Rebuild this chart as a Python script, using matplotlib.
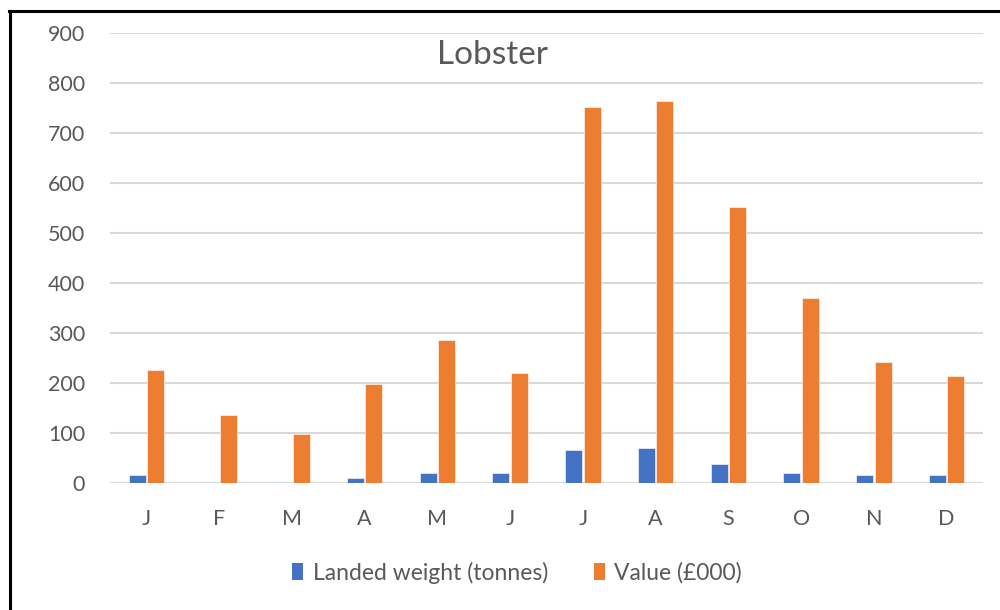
import matplotlib
matplotlib.use("Agg")
import matplotlib.pyplot as plt
from matplotlib.lines import Line2D
from matplotlib.patches import Patch
import numpy as np

months = ["J", "F", "M", "A", "M", "J", "J", "A", "S", "O", "N", "D"]
landed_weight = [15, 1, 1, 9, 20, 20, 65, 70, 37, 20, 15, 15]
value_k = [225, 136, 98, 197, 285, 220, 752, 763, 552, 369, 242, 214]
yticks = [0, 100, 200, 300, 400, 500, 600, 700, 800, 900]

blue = "#4472C4"
orange = "#ED7D31"
text_col = "#595959"
grid_col = "#D9D9D9"

plt.rcParams["font.family"] = ["Lato", "DejaVu Sans"]

fig = plt.figure(figsize=(10, 6.1), dpi=100)
ax = fig.add_axes([0.110, 0.2087, 0.873, 0.738])

x = np.arange(len(months))
w = 0.235
gap = 0.02
ax.bar(x - (w + gap) / 2, landed_weight, width=w, color=blue,
       edgecolor="white", linewidth=0.4, zorder=3, label="Landed weight (tonnes)")
ax.bar(x + (w + gap) / 2, value_k, width=w, color=orange,
       edgecolor="white", linewidth=0.4, zorder=3, label="Value (£000)")

ax.set_xlim(-0.5, len(months) - 0.5)
ax.set_ylim(0, 900)
ax.set_yticks(yticks)
ax.set_xticks(x)
ax.set_xticklabels(months)
ax.tick_params(axis="both", length=0, colors=text_col, labelsize=15.5)
ax.tick_params(axis="y", pad=18)
ax.tick_params(axis="x", pad=19)
ax.grid(axis="y", color=grid_col, linewidth=1.5, zorder=0)
for s in ax.spines.values():
    s.set_visible(False)

ax.text(0.438, 0.95, "Lobster", transform=ax.transAxes, ha="center",
        va="center", fontsize=24, color=text_col)

handles = [Patch(facecolor=blue, label="Landed weight (tonnes)"),
           Patch(facecolor=orange, label="Value (£000)")]
fig.legend(handles=handles, loc="center", bbox_to_anchor=(0.517, 0.061),
           ncol=2, frameon=False, fontsize=16.5, labelcolor=text_col,
           handlelength=0.5, handleheight=0.75, handletextpad=0.4,
           columnspacing=2.0)

# outer border (left and top edges)
fig.add_artist(Line2D([0.0095, 0.0095], [0.0, 0.982], transform=fig.transFigure,
                      color="black", linewidth=2.2))
fig.add_artist(Line2D([0.0085, 1.0], [0.982, 0.982], transform=fig.transFigure,
                      color="black", linewidth=2.2))

fig.savefig("out.png", dpi=100, facecolor="white")
